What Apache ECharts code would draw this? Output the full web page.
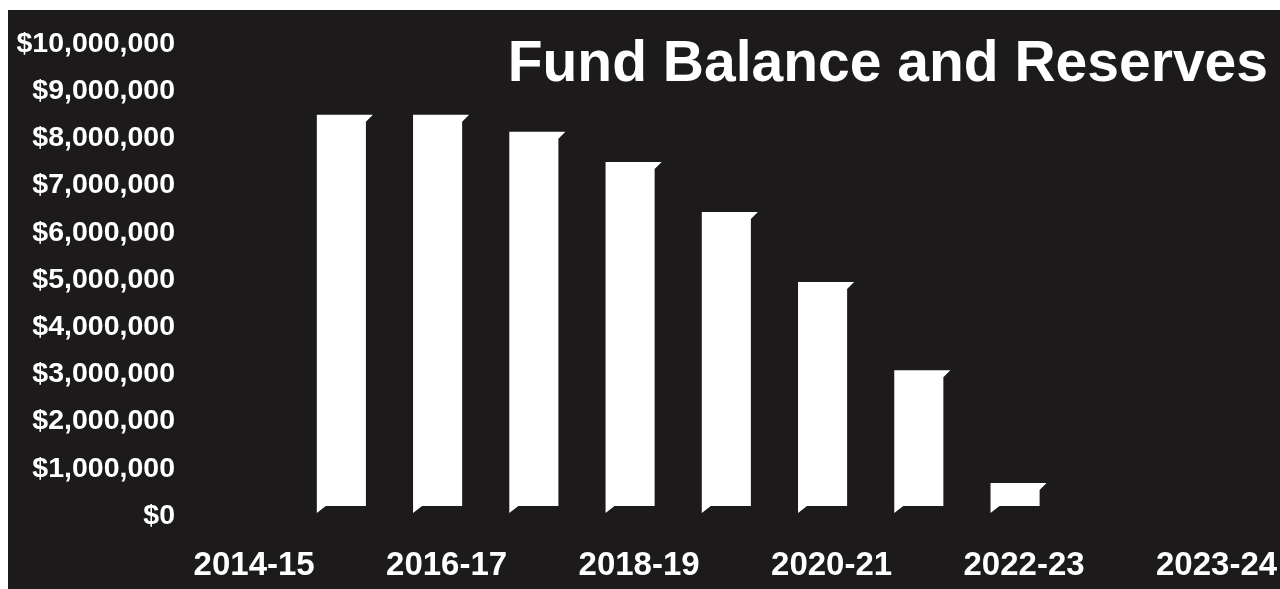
<!DOCTYPE html>
<html>
<head>
<meta charset="utf-8">
<script src="https://cdn.jsdelivr.net/npm/echarts@6/dist/echarts.min.js"></script>
<style>
  html, body { margin: 0; padding: 0; background: #ffffff; }
  #chart { position: absolute; left: 8px; top: 10px; width: 1272px; height: 579px; }
</style>
</head>
<body>
<div id="chart"></div>
<script>
// ---- data ----
const categories = ['2014-15', '2015-16', '2016-17', '2017-18', '2018-19', '2019-20', '2020-21', '2021-22', '2022-23', '', '2023-24'];
const fundBalance = [null, 8500000, 8500000, 8140000, 7500000, 6440000, 4960000, 3090000, 700000, null, null];
const yTicks = [0, 1000000, 2000000, 3000000, 4000000, 5000000, 6000000, 7000000, 8000000, 9000000, 10000000];
const titleText = 'Fund Balance and Reserves';

const seriesData = fundBalance.map((v, i) => v == null ? null : [i, v]).filter(d => d);

function money(v) {
  return '$' + v.toString().replace(/\B(?=(\d{3})+(?!\d))/g, ',');
}

const chart = echarts.init(document.getElementById('chart'));
chart.setOption({
  backgroundColor: '#1c1a1b',
  animation: false,
  title: {
    text: titleText,
    right: 7,
    top: 22,
    textStyle: {
      color: '#ffffff',
      fontFamily: '"Liberation Sans", Arial, sans-serif',
      fontWeight: 'bold',
      fontSize: 57
    }
  },
  grid: { left: 189, right: 22, top: 34, bottom: 73 },
  xAxis: {
    type: 'category',
    data: categories,
    axisLine: { show: false },
    axisTick: { show: false },
    splitLine: { show: false },
    axisLabel: {
      interval: 1,
      color: '#ffffff',
      fontFamily: '"Liberation Sans Narrow", "Arial Narrow", "Liberation Sans", sans-serif',
      fontWeight: 'bold',
      fontSize: 33,
      margin: 33,
      padding: [0, 0, 0, 18]
    }
  },
  yAxis: {
    type: 'value',
    min: yTicks[0],
    max: yTicks[yTicks.length - 1],
    interval: yTicks[1] - yTicks[0],
    axisLine: { show: false },
    axisTick: { show: false },
    splitLine: { show: false },
    axisLabel: {
      color: '#ffffff',
      fontFamily: '"Liberation Sans", Arial, sans-serif',
      fontWeight: 'bold',
      fontSize: 28.5,
      margin: 22,
      formatter: money
    }
  },
  series: [{
    type: 'custom',
    data: seriesData,
    encode: { x: 0, y: 1 },
    renderItem: function (params, api) {
      const i = api.value(0), v = api.value(1);
      const top = api.coord([i, v]);
      const base = api.coord([i, 0]);
      const band = api.size([1, 0])[0];
      const half = band * 0.255;
      const d = 10, f = 7;
      const x0 = top[0] - half, x1 = top[0] + half;
      const ty = top[1], by = base[1] - d;
      return {
        type: 'polygon',
        shape: { points: [[x0, ty], [x1 + f, ty], [x1, ty + f], [x1, by], [x0 + f + 2, by], [x0, by + f]] },
        style: { fill: '#ffffff' }
      };
    }
  }]
});
</script>
</body>
</html>
